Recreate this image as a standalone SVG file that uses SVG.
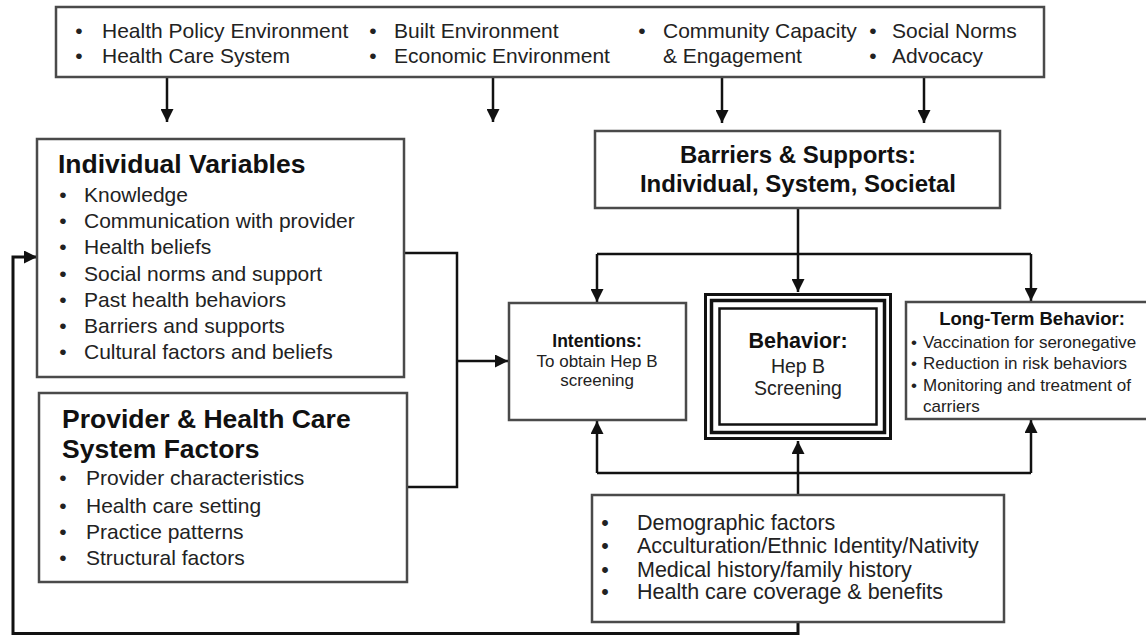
<svg xmlns="http://www.w3.org/2000/svg" width="1146" height="635" viewBox="0 0 1146 635">
<defs>
<marker id="ah" markerUnits="userSpaceOnUse" markerWidth="14" markerHeight="13" refX="13" refY="6.5" orient="auto">
<path d="M0,0 L13,6.5 L0,13 z" fill="#111"/>
</marker>
<style>
text{font-family:"Liberation Sans",Arial,sans-serif;fill:#222}
.box{fill:#fff;stroke:#4a4a4a;stroke-width:2.5}
.bb{fill:none;stroke:#111}
.c{fill:none;stroke:#111;stroke-width:2.5}
.a{marker-end:url(#ah)}
.top{font-size:21px}
.t{font-weight:bold;fill:#111}
.it{font-size:21px}
.m{text-anchor:middle}
</style>
</defs>
<rect width="1146" height="635" fill="#fff"/>

<g id="connectors">
<path class="c a" d="M167,77 V122"/>
<path class="c a" d="M493,77 V122"/>
<path class="c a" d="M722,77 V123"/>
<path class="c a" d="M924,77 V123"/>
<path class="c" d="M798,208 V254 M597,254 H1031"/>
<path class="c a" d="M597,254 V302"/>
<path class="c a" d="M798,254 V292"/>
<path class="c a" d="M1031,254 V301"/>
<path class="c" d="M597,473 H1031"/>
<path class="c a" d="M597,473 V421"/>
<path class="c a" d="M1031,473 V420"/>
<path class="c a" d="M798,495 V441"/>
<path class="c" d="M404,253 H457 V487 H407"/>
<path class="c a" d="M457,361 H508"/>
<path class="c a" style="stroke-width:3" d="M798,622 V633.5 H13 V257 H37"/>
</g>

<g id="context">
<rect class="box" x="56" y="7" width="988" height="70"/>
<text class="top m" x="79" y="38">•</text><text class="top" x="102" y="38">Health Policy Environment</text>
<text class="top m" x="79" y="63">•</text><text class="top" x="102" y="63">Health Care System</text>
<text class="top m" x="373" y="38">•</text><text class="top" x="394" y="38">Built Environment</text>
<text class="top m" x="373" y="63">•</text><text class="top" x="394" y="63">Economic Environment</text>
<text class="top m" x="642" y="38">•</text><text class="top" x="663" y="38">Community Capacity</text>
<text class="top" x="663" y="63">&amp; Engagement</text>
<text class="top m" x="873" y="38">•</text><text class="top" x="892" y="38">Social Norms</text>
<text class="top m" x="873" y="63">•</text><text class="top" x="892" y="63">Advocacy</text>
</g>

<g id="individual">
<rect class="box" x="37" y="139" width="367" height="238"/>
<text class="t" x="58" y="173" font-size="26.5">Individual Variables</text>
<g class="it">
<text class="m" x="63" y="202">•</text><text x="84" y="202">Knowledge</text>
<text class="m" x="63" y="228">•</text><text x="84" y="228">Communication with provider</text>
<text class="m" x="63" y="254">•</text><text x="84" y="254">Health beliefs</text>
<text class="m" x="63" y="281">•</text><text x="84" y="281">Social norms and support</text>
<text class="m" x="63" y="307">•</text><text x="84" y="307">Past health behaviors</text>
<text class="m" x="63" y="333">•</text><text x="84" y="333">Barriers and supports</text>
<text class="m" x="63" y="359">•</text><text x="84" y="359">Cultural factors and beliefs</text>
</g>
</g>

<g id="provider">
<rect class="box" x="39" y="393" width="368" height="189"/>
<text class="t" x="62" y="428" font-size="26.5">Provider &amp; Health Care</text>
<text class="t" x="62" y="458" font-size="26.5">System Factors</text>
<g class="it">
<text class="m" x="63" y="485">•</text><text x="86" y="485">Provider characteristics</text>
<text class="m" x="63" y="513">•</text><text x="86" y="513">Health care setting</text>
<text class="m" x="63" y="539">•</text><text x="86" y="539">Practice patterns</text>
<text class="m" x="63" y="565">•</text><text x="86" y="565">Structural factors</text>
</g>
</g>

<g id="barriers">
<rect class="box" x="595" y="131" width="405" height="77"/>
<text class="t m" x="798" y="163" font-size="24">Barriers &amp; Supports:</text>
<text class="t m" x="798" y="192" font-size="24">Individual, System, Societal</text>
</g>

<g id="intentions">
<rect class="box" x="509" y="303" width="177" height="117"/>
<text class="t m" x="597" y="347" font-size="17.5">Intentions:</text>
<text class="m" x="597" y="367" font-size="17">To obtain Hep B</text>
<text class="m" x="597" y="386" font-size="17">screening</text>
</g>

<g id="behavior">
<rect x="705.5" y="294.5" width="185" height="144" fill="#fff" class="bb" stroke-width="3"/>
<rect x="711.5" y="300.5" width="173" height="132" class="bb" stroke-width="3.5"/>
<rect x="719.5" y="308.5" width="157" height="116" class="bb" stroke-width="2.5"/>
<text class="t m" x="798" y="348" font-size="21.5">Behavior:</text>
<text class="m" x="798" y="373" font-size="19.5">Hep B</text>
<text class="m" x="798" y="395" font-size="19.5">Screening</text>
</g>

<g id="longterm">
<rect class="box" x="906" y="302" width="260" height="117"/>
<text class="t m" x="1032" y="325" font-size="18.5">Long-Term Behavior:</text>
<g font-size="17">
<text x="911" y="348">•</text><text x="923" y="348">Vaccination for seronegative</text>
<text x="911" y="369">•</text><text x="923" y="369">Reduction in risk behaviors</text>
<text x="911" y="391">•</text><text x="923" y="391">Monitoring and treatment of</text>
<text x="923" y="412">carriers</text>
</g>
</g>

<g id="demographics">
<rect class="box" x="592" y="495" width="412" height="127"/>
<g font-size="21.5">
<text class="m" x="605" y="530">•</text><text x="637" y="530">Demographic factors</text>
<text class="m" x="605" y="553">•</text><text x="637" y="553">Acculturation/Ethnic Identity/Nativity</text>
<text class="m" x="605" y="577">•</text><text x="637" y="577">Medical history/family history</text>
<text class="m" x="605" y="599">•</text><text x="637" y="599">Health care coverage &amp; benefits</text>
</g>
</g>
</svg>
